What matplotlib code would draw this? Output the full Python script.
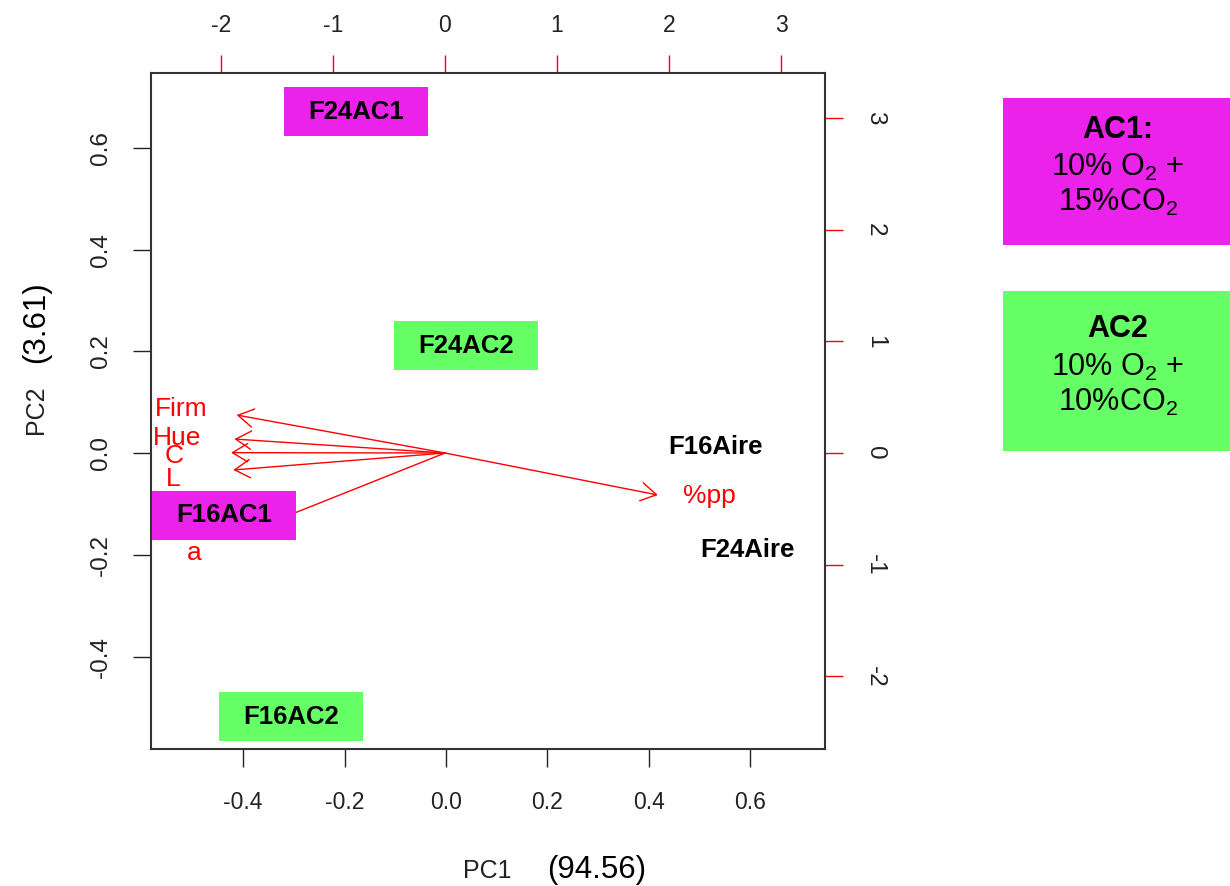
import matplotlib
matplotlib.use("Agg")
from matplotlib import pyplot as plt
from matplotlib.patches import Rectangle

plt.rcParams['font.family'] = ['Liberation Sans', 'DejaVu Sans']
plt.rcParams['mathtext.fontset'] = 'custom'
plt.rcParams['mathtext.rm'] = 'Liberation Sans'

# scores (muestras)
muestras = ["F24AC1", "F24AC2", "F16Aire", "F24Aire", "F16AC1", "F16AC2"]
pc1 = [-0.177, 0.039, 0.532, 0.595, -0.437, -0.305]
pc2 = [0.671, 0.211, 0.012, -0.191, -0.122, -0.518]
grupo = ["AC1", "AC2", "Aire", "Aire", "AC1", "AC2"]

# loadings (variables): punta de flecha y posicion de la etiqueta
variables = ["Firm", "Hue", "C", "L", "a", "%pp"]
flecha_x = [-1.86, -1.88, -1.91, -1.89, -1.79, 1.90]
flecha_y = [0.34, 0.125, 0.003, -0.152, -0.716, -0.376]
etiq_x = [-2.353, -2.393, -2.42, -2.424, -2.237, 2.362]
etiq_y = [0.394, 0.134, -0.027, -0.237, -0.895, -0.385]

ticks_pc = [-0.4, -0.2, 0.0, 0.2, 0.4, 0.6]
ticks_load = [-2, -1, 0, 1, 2, 3]

colores = {"AC1": "#EA22EA", "AC2": "#66FF66", "Aire": None}

fig = plt.figure(figsize=(12.3, 8.86), dpi=100)
pos = [151/1230, 137/886, 674/1230, 676/886]
ax2 = fig.add_axes(pos, label="loadings")
ax = fig.add_axes(pos)
ax.set_zorder(2)
ax.patch.set_visible(False)

# eje de scores
ax.set_xlim(-0.5815, 0.747)
ax.set_ylim(-0.5815, 0.747)
ax.set_xticks(ticks_pc)
ax.set_yticks(ticks_pc)
ax.set_xticklabels([f"{t:.1f}" for t in ticks_pc])
ax.set_yticklabels([f"{t:.1f}" for t in ticks_pc], rotation=90, va="center")
ax.tick_params(axis="x", length=13, width=1, pad=17, labelsize=16.5, color="#222", labelcolor="#222")
ax.tick_params(axis="y", length=13, width=1, pad=15, labelsize=17.5, color="#222", labelcolor="#222")
for s in ax.spines.values():
    s.set_linewidth(1.5)
    s.set_color("#333")

# eje de loadings
ax2.set_xlim(-2.625, 3.393)
ax2.set_ylim(-2.65, 3.402)
ax2.xaxis.tick_top()
ax2.yaxis.tick_right()
ax2.set_xticks(ticks_load)
ax2.set_yticks(ticks_load)
ax2.set_xticklabels([str(t) for t in ticks_load])
ax2.set_yticklabels([str(t) for t in ticks_load], rotation=-90, va="center")
ax2.tick_params(axis="x", length=13, width=1, pad=13, labelsize=16.5, color="red", labelcolor="#222")
ax2.tick_params(axis="y", length=13, width=1, pad=15, labelsize=17.5, color="red", labelcolor="#222")
for s in ax2.spines.values():
    s.set_visible(False)

for v, fx, fy, lx, ly in zip(variables, flecha_x, flecha_y, etiq_x, etiq_y):
    ax2.annotate("", xy=(fx, fy), xytext=(0, 0),
                 arrowprops=dict(arrowstyle="->,head_length=1.0,head_width=0.6",
                                 color="red", lw=1, shrinkA=0, shrinkB=0, mutation_scale=11))
    ax2.text(lx, ly, v, color="red", fontsize=19, ha="center", va="center")

# muestras con recuadro
bw, bh = 0.284, 0.0965
for m, x, y, g in zip(muestras, pc1, pc2, grupo):
    if colores[g]:
        ax.add_patch(Rectangle((x - bw/2, y - bh/2), bw, bh, color=colores[g], lw=0, zorder=3))
    ax.text(x, y, m, fontsize=18.5, fontweight="bold", ha="center", va="center", zorder=4)

fig.text(487/1230, 1 - 871/886, "PC1", fontsize=18, color="#222", ha="center", va="center")
fig.text(597/1230, 1 - 870/886, "(94.56)", fontsize=22.5, ha="center", va="center")
fig.text(36/1230, 1 - 410/886, "PC2", fontsize=18, color="#222", rotation=90, ha="center", va="center")
fig.text(36/1230, 1 - 322/886, "(3.61)", fontsize=22.5, rotation=90, ha="center", va="center")

# leyenda
leyenda = [("AC1:", "15%CO$_2$", "#EA22EA", 98, 245), ("AC2", "10%CO$_2$", "#66FF66", 291, 451)]
for titulo, linea3, col, y0, y1 in leyenda:
    fig.patches.append(Rectangle((1003/1230, 1 - y1/886), 227/1230, (y1 - y0)/886,
                                 transform=fig.transFigure, color=col, lw=0))
    yc = (y0 + y1) / 2
    fig.text(1118/1230, 1 - (yc - 42)/886, titulo, fontsize=22, fontweight="bold", ha="center", va="center")
    fig.text(1118/1230, 1 - (yc - 4)/886, "10% O$_2$ +", fontsize=22, ha="center", va="center")
    fig.text(1118/1230, 1 - (yc + 31)/886, linea3, fontsize=22, ha="center", va="center")

fig.savefig("out.png", dpi=100)
